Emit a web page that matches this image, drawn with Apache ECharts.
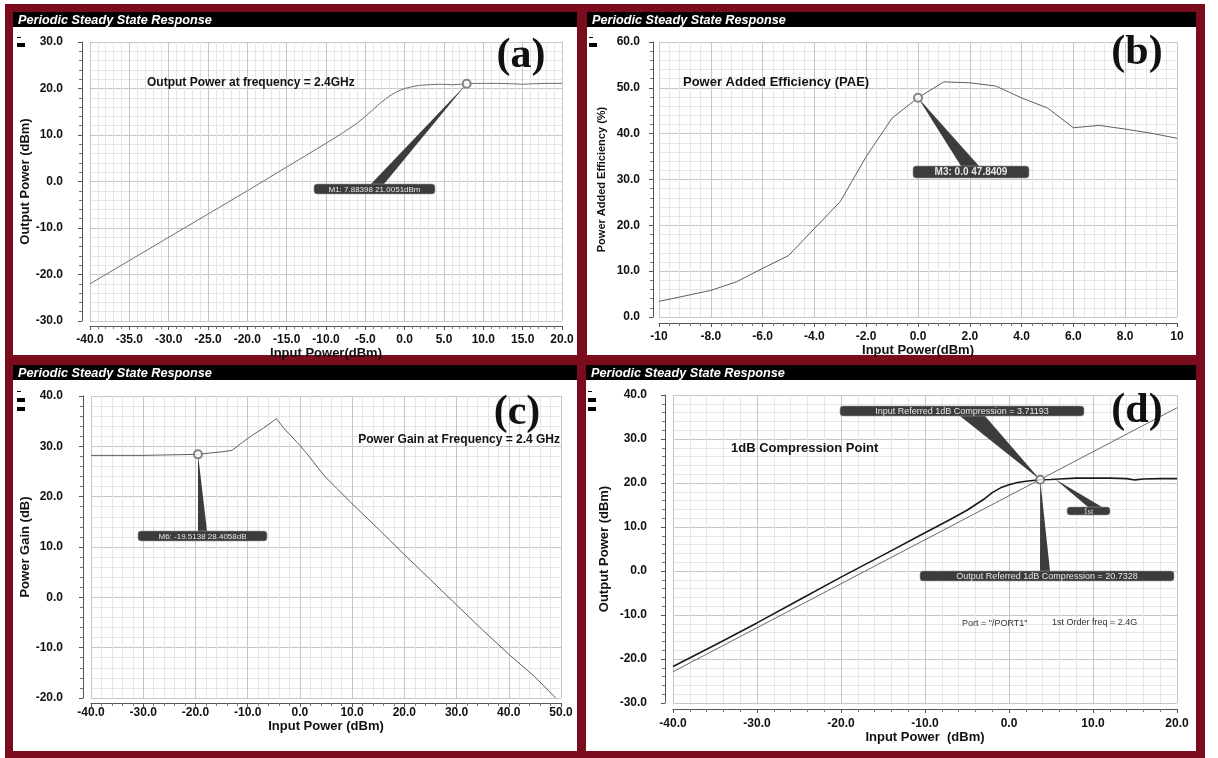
<!DOCTYPE html>
<html>
<head>
<meta charset="utf-8">
<script src="https://cdn.jsdelivr.net/npm/echarts@6/dist/echarts.min.js"></script>
<style>
html, body { margin: 0; padding: 0; background: #fff; }
#main { width: 1218px; height: 758px; }
</style>
</head>
<body>
<div id="main"></div>
<script>
// (a) output power vs input power
var aIn  = [-40, -35, -30, -25, -20, -15, -10, -8, -6, -5, -4, -3, -2, -1, 0, 1, 2, 3, 4, 5, 6, 7, 7.88398, 9, 10, 12, 14, 15, 16, 18, 20]
var aOut = [-22, -17, -12, -7, -2, 3.1, 8.2, 10.3, 12.6, 14, 15.5, 17, 18.3, 19.3, 20, 20.4, 20.7, 20.8, 20.9, 20.9, 20.8, 20.9, 21.0051, 21.1, 21.1, 21.1, 21.0, 20.9, 21.0, 21.1, 21.1]
// (b) PAE
var bIn  = [-10, -9, -8, -7, -6, -5, -4, -3, -2, -1, 0, 1, 2, 3, 4, 5, 6, 7, 8, 9, 10]
var bPae = [3.4, 4.6, 5.8, 7.7, 10.6, 13.4, 19.3, 25.2, 35, 43.4, 47.8409, 51.3, 51.1, 50.4, 47.8, 45.6, 41.3, 41.8, 41.0, 40.1, 39.0]
// (c) power gain
var cIn   = [-40, -35, -30, -25, -20, -19.5138, -17, -15, -13, -11, -9, -7, -5, -4.5, -3, -1, 0, 2, 4, 5, 7, 10, 15, 20, 25, 30, 35, 40, 45, 49]
var cGain = [28.2, 28.2, 28.2, 28.3, 28.4, 28.4058, 28.7, 28.9, 29.2, 30.8, 32.3, 33.6, 35.1, 35.5, 33.5, 31.3, 30.2, 27.7, 25.0, 23.8, 21.7, 18.6, 13.6, 8.5, 3.5, -1.5, -6.5, -11.3, -15.8, -20.0]
// (d) 1dB compression: fundamental and linear extrapolation
var dIn   = [-40, -35, -30, -25, -20, -15, -10, -7, -5, -3, -2, -1, 0, 1, 2, 3.71193, 5, 6, 8, 10, 12, 14, 15, 16, 18, 20]
var dOut  = [-21.7, -16.8, -11.8, -6.6, -1.4, 3.6, 8.7, 11.7, 13.8, 16.3, 17.8, 18.9, 19.6, 20.1, 20.4, 20.7328, 20.8, 20.9, 21.1, 21.1, 21.1, 21.0, 20.7, 20.9, 21.0, 21.0]
var dLinIn = [-40, 20]
var dLin   = [-22.9, 37.1]
// markers
var mA = [7.88398, 21.0051]
var mB = [0.0, 47.8409]
var mC = [-19.5138, 28.4058]
var mD = [3.71193, 20.7328]
var m1st = [5.5, 20.85]
// tick labels of (b) x axis
var bXTicks  = [-10, -8, -6, -4, -2, 0, 2, 4, 6, 8, 10]
var bXLabels = ['-10', '-8.0', '-6.0', '-4.0', '-2.0', '0.0', '2.0', '4.0', '6.0', '8.0', '10']

var FONT = '"Liberation Sans", Arial, sans-serif'
var SERIF = '"Liberation Serif", "Times New Roman", serif'
var RED = '#7b0c1d'

function zip(xs, ys) {
    return xs.map(function (x, i) { return [x, ys[i]] })
}

function fixed1(v) { return v.toFixed(1) }

function xAx(gi, min, max, interval, fmt, offset, margin, gap, name) {
    return {
        gridIndex: gi, type: 'value', min: min, max: max, interval: interval, offset: offset,
        name: name, nameLocation: 'middle', nameGap: gap,
        nameTextStyle: { fontFamily: FONT, fontWeight: 'bold', fontSize: 13, color: '#111' },
        axisLine: { onZero: false, lineStyle: { color: '#555' } },
        axisTick: { length: 4, lineStyle: { color: '#555' } },
        minorTick: { show: true, splitNumber: 5, length: 3, lineStyle: { color: '#777' } },
        axisLabel: { margin: margin, formatter: fmt, fontFamily: FONT, fontWeight: 'bold', fontSize: 12, color: '#111', showMinLabel: true, showMaxLabel: true },
        splitLine: { show: true, lineStyle: { color: '#c6c6c6' } },
        minorSplitLine: { show: true, lineStyle: { color: '#e6e6e6' } }
    }
}

function yAx(gi, min, max, interval, offset, margin, gap, name, nameSize) {
    return {
        gridIndex: gi, type: 'value', min: min, max: max, interval: interval, offset: offset,
        name: name, nameLocation: 'middle', nameGap: gap,
        nameTextStyle: { fontFamily: FONT, fontWeight: 'bold', fontSize: nameSize, color: '#111' },
        axisLine: { show: true, onZero: false, lineStyle: { color: '#555' } },
        axisTick: { show: true, length: 4, lineStyle: { color: '#555' } },
        minorTick: { show: true, splitNumber: 5, length: 3, lineStyle: { color: '#777' } },
        axisLabel: { margin: margin, formatter: fixed1, fontFamily: FONT, fontWeight: 'bold', fontSize: 12, color: '#111', showMinLabel: true, showMaxLabel: true },
        splitLine: { show: true, lineStyle: { color: '#c6c6c6' } },
        minorSplitLine: { show: true, lineStyle: { color: '#e6e6e6' } }
    }
}

function line(gi, data, color, width) {
    return {
        type: 'line', xAxisIndex: gi, yAxisIndex: gi, data: data, showSymbol: false,
        silent: true, animation: false, z: 3,
        lineStyle: { color: color, width: width }
    }
}

function marker(gi, pt) {
    return {
        type: 'scatter', xAxisIndex: gi, yAxisIndex: gi, data: [pt], symbol: 'emptyCircle', symbolSize: 8,
        silent: true, animation: false, z: 8,
        itemStyle: { color: '#666', borderWidth: 1.2 }
    }
}

function panel(x, y, w, h) {
    return [
        { type: 'rect', z: -20, shape: { x: x, y: y, width: w, height: h }, style: { fill: '#fff' } },
        { type: 'rect', z: -19, shape: { x: x, y: y, width: w, height: 15 }, style: { fill: '#000' } },
        { type: 'text', z: -18, x: x + 5, y: y + 8, style: { text: 'Periodic Steady State Response', fill: '#fff', font: 'italic bold 12.7px ' + FONT, verticalAlign: 'middle' } }
    ]
}

function txt(x, y, s, font, color, align) {
    return { type: 'text', z: 10, x: x, y: y, style: { text: s, font: font, fill: color || '#111', align: align || 'left', verticalAlign: 'middle' } }
}

function rect(x, y, w, h) {
    return { type: 'rect', z: 10, shape: { x: x, y: y, width: w, height: h }, style: { fill: '#000' } }
}

var bg = [
    { type: 'rect', z: -30, shape: { x: 5, y: 4, width: 1200, height: 754 }, style: { fill: RED } }
]
bg = bg.concat(panel(13, 12, 564, 343), panel(587, 12, 609, 343), panel(13, 365, 564, 386), panel(586, 365, 610, 386))
bg.push(
    rect(17, 43, 8, 4), rect(17, 37, 4, 1),
    rect(589, 43, 8, 4), rect(589, 37, 4, 1),
    rect(17, 398, 8, 4), rect(17, 407, 8, 4), rect(17, 391, 4, 1),
    rect(588, 398, 8, 4), rect(588, 407, 8, 4), rect(588, 391, 4, 1),
    txt(521, 56, '(a)', 'bold 42px ' + SERIF, '#111', 'center'),
    txt(1137, 53, '(b)', 'bold 42px ' + SERIF, '#111', 'center'),
    txt(517, 413, '(c)', 'bold 42px ' + SERIF, '#111', 'center'),
    txt(1137, 411, '(d)', 'bold 42px ' + SERIF, '#111', 'center'),
    txt(147, 83, 'Output Power at frequency = 2.4GHz', 'bold 12px ' + FONT),
    txt(683, 82, 'Power Added Efficiency (PAE)', 'bold 13px ' + FONT),
    txt(560, 440, 'Power Gain at Frequency = 2.4 GHz', 'bold 12px ' + FONT, '#111', 'right'),
    txt(731, 448, '1dB Compression Point', 'bold 13px ' + FONT),
    txt(962, 624, 'Port = "/PORT1"', '9px ' + FONT, '#333'),
    txt(1052, 623, '1st Order freq = 2.4G', '9px ' + FONT, '#333')
)

var chart = echarts.init(document.getElementById('main'))

var option = {
    backgroundColor: '#fff',
    animation: false,
    grid: [
        { left: 90, top: 42, width: 472, height: 279 },
        { left: 659, top: 42, width: 518, height: 275 },
        { left: 91, top: 396, width: 470, height: 302 },
        { left: 673, top: 395, width: 504, height: 308 }
    ],
    xAxis: [
        xAx(0, -40, 20, 5, fixed1, 5, 8, 19, 'Input Power(dBm)'),
        xAx(1, -10, 10, 2, function (v) { return bXLabels[bXTicks.indexOf(v)] }, 6, 8, 18, 'Input Power(dBm)'),
        xAx(2, -40, 50, 10, fixed1, 5, 4, 12, 'Input Power (dBm)'),
        xAx(3, -40, 20, 10, fixed1, 6, 9, 21, 'Input Power  (dBm)')
    ],
    yAxis: [
        yAx(0, -30, 30, 10, 8, 19, 43, 'Output Power (dBm)', 13),
        yAx(1, 0, 60, 10, 6, 13, 46, 'Power Added Efficiency (%)', 11),
        yAx(2, -20, 40, 10, 8, 20, 41, 'Power Gain (dB)', 13),
        yAx(3, -30, 40, 10, 8, 18, 54, 'Output Power (dBm)', 13)
    ],
    series: [
        line(0, zip(aIn, aOut), '#6e6e6e', 1),
        marker(0, mA),
        line(1, zip(bIn, bPae), '#5e5e5e', 1),
        marker(1, mB),
        line(2, zip(cIn, cGain), '#5e5e5e', 1),
        marker(2, mC),
        line(3, zip(dLinIn, dLin), '#6a6a6a', 1),
        line(3, zip(dIn, dOut), '#1a1a1a', 1.6),
        marker(3, mD)
    ],
    graphic: { elements: bg }
}

chart.setOption(option)

// callouts: wedge from the data point to a label box
function callout(gi, pt, box, b1, b2, atBottom, label, font) {
    var p = chart.convertToPixel({ gridIndex: gi }, pt)
    var by = atBottom ? box[1] + box[3] : box[1]
    return [
        { type: 'polygon', z: 4, shape: { points: [p, [b1, by], [b2, by]] }, style: { fill: '#3c3c3c' } },
        { type: 'rect', z: 5, shape: { x: box[0], y: box[1], width: box[2], height: box[3], r: 3 }, style: { fill: '#3c3c3c', stroke: '#999', lineWidth: 0.6 } },
        { type: 'text', z: 6, x: box[0] + box[2] / 2, y: box[1] + box[3] / 2 + 0.5, style: { text: label, font: font, fill: '#e8e8e8', align: 'center', verticalAlign: 'middle' } }
    ]
}

var notes = [].concat(
    callout(0, mA, [314, 184, 121, 10], 371, 384, false, 'M1: ' + mA[0] + ' ' + mA[1] + 'dBm', '8px ' + FONT),
    callout(1, mB, [913, 166, 116, 12], 961, 979, false, 'M3: ' + mB[0].toFixed(1) + ' ' + mB[1], 'bold 10px ' + FONT),
    callout(2, mC, [138, 531, 129, 10], 198, 207, false, 'M6: ' + mC[0] + ' ' + mC[1] + 'dB', '8px ' + FONT),
    callout(3, mD, [840, 406, 244, 10], 960, 985, true, 'Input Referred 1dB Compression = ' + mD[0], '9px ' + FONT),
    callout(3, mD, [920, 571, 254, 10], 1040, 1050, false, 'Output Referred 1dB Compression = ' + mD[1], '9px ' + FONT),
    callout(3, m1st, [1067, 507, 43, 8], 1088, 1102, false, '1st', '8px ' + SERIF)
)

chart.setOption({ graphic: { elements: bg.concat(notes) } })
</script>
</body>
</html>
